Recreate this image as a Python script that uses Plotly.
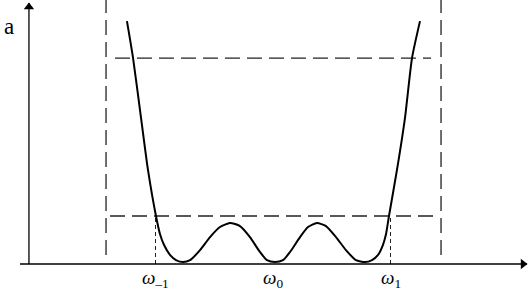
import plotly.graph_objects as go

# Response curve (omega in units of omega_1 - omega_0, a in ripple units)
omega = [-1.243, -1.191, -1.123, -1.064, -0.996, -0.962, -0.928, -0.877, -0.826, -0.766,
         -0.706, -0.621, -0.536, -0.451, -0.366, -0.281, -0.196, -0.111, -0.051, 0.017,
         0.085, 0.145, 0.230, 0.298, 0.374, 0.451, 0.536, 0.621, 0.706, 0.783,
         0.843, 0.894, 0.936, 0.962, 0.987, 1.055, 1.123, 1.183, 1.251]
a_vals = [5.06, 4.29, 3.04, 1.96, 1.00, 0.625, 0.40, 0.19, 0.083, 0.04,
          0.08, 0.29, 0.56, 0.77, 0.854, 0.79, 0.56, 0.25, 0.08, 0.04,
          0.08, 0.25, 0.56, 0.77, 0.854, 0.79, 0.56, 0.29, 0.08, 0.04,
          0.083, 0.19, 0.40, 0.625, 1.00, 1.96, 3.04, 4.29, 5.06]

# Guide levels / frequencies
tick_omegas = [-1.0, 0.0, 1.0]
tick_labels = ["<i>ω</i><sub>–1</sub>", "<i>ω</i><sub>0</sub>", "<i>ω</i><sub>1</sub>"]
y_label = "a"
ripple_level = 1.0
upper_level = 4.29
band_left, band_right = -1.421, 1.430
upper_span = [-1.345, 1.345]
lower_span = [-1.387, 1.396]
band_bottom, band_top = 0.1875, 5.5

# axis geometry (data units)
x_axis_span = [-2.153, 2.162]
y_axis_pos = -2.077
y_axis_top = 5.4375

X_RANGE = [-2.3234, 2.1872]
Y_RANGE = [-0.5625, 5.5]

SERIF = "Liberation Serif"

fig = go.Figure()

dash_long = "15px,7px"
line_col = "#222"
for xb in (band_left, band_right):
    fig.add_trace(go.Scatter(x=[xb, xb], y=[band_bottom, band_top], mode="lines",
                             line=dict(color=line_col, width=1.3, dash=dash_long),
                             hoverinfo="skip", showlegend=False))
fig.add_trace(go.Scatter(x=upper_span, y=[upper_level, upper_level], mode="lines",
                         line=dict(color=line_col, width=1.3, dash=dash_long),
                         hoverinfo="skip", showlegend=False))
fig.add_trace(go.Scatter(x=lower_span, y=[ripple_level, ripple_level], mode="lines",
                         line=dict(color=line_col, width=1.3, dash=dash_long),
                         hoverinfo="skip", showlegend=False))
for xt in (tick_omegas[0], tick_omegas[2]):
    fig.add_trace(go.Scatter(x=[xt, xt], y=[0, ripple_level], mode="lines",
                             line=dict(color=line_col, width=1, dash="4px,3px"),
                             hoverinfo="skip", showlegend=False))

# axes with arrowheads
fig.add_trace(go.Scatter(x=x_axis_span, y=[0, 0], mode="lines",
                         line=dict(color="black", width=1.3), hoverinfo="skip", showlegend=False))
fig.add_trace(go.Scatter(x=[y_axis_pos, y_axis_pos], y=[0, y_axis_top], mode="lines",
                         line=dict(color="black", width=1.3), hoverinfo="skip", showlegend=False))
fig.add_trace(go.Scatter(x=[x_axis_span[1] - 0.034], y=[0], mode="markers",
                         marker=dict(symbol="triangle-right", size=9, color="black"),
                         hoverinfo="skip", showlegend=False))
fig.add_trace(go.Scatter(x=[y_axis_pos], y=[y_axis_top - 0.083], mode="markers",
                         marker=dict(symbol="triangle-up", size=9, color="black"),
                         hoverinfo="skip", showlegend=False))

# response curve
fig.add_trace(go.Scatter(x=omega, y=a_vals, mode="lines",
                         line=dict(color="black", width=2, shape="spline", smoothing=0.6),
                         hoverinfo="skip", showlegend=False))

annotations = [dict(x=-2.3234 + 0.075, y=4.95, xref="x", yref="y", text=y_label, showarrow=False,
                    font=dict(family=SERIF, size=23, color="black"))]
for xt, lab in zip(tick_omegas, tick_labels):
    annotations.append(dict(x=xt, y=-0.31, xref="x", yref="y", text=lab, showarrow=False,
                            font=dict(family=SERIF, size=19, color="black")))

fig.update_layout(
    width=530, height=291, margin=dict(l=0, r=0, t=0, b=0),
    paper_bgcolor="white", plot_bgcolor="white",
    font=dict(family=SERIF),
    xaxis=dict(range=X_RANGE, visible=False, fixedrange=True),
    yaxis=dict(range=Y_RANGE, visible=False, fixedrange=True),
    annotations=annotations,
)

fig.write_html("out.html")
